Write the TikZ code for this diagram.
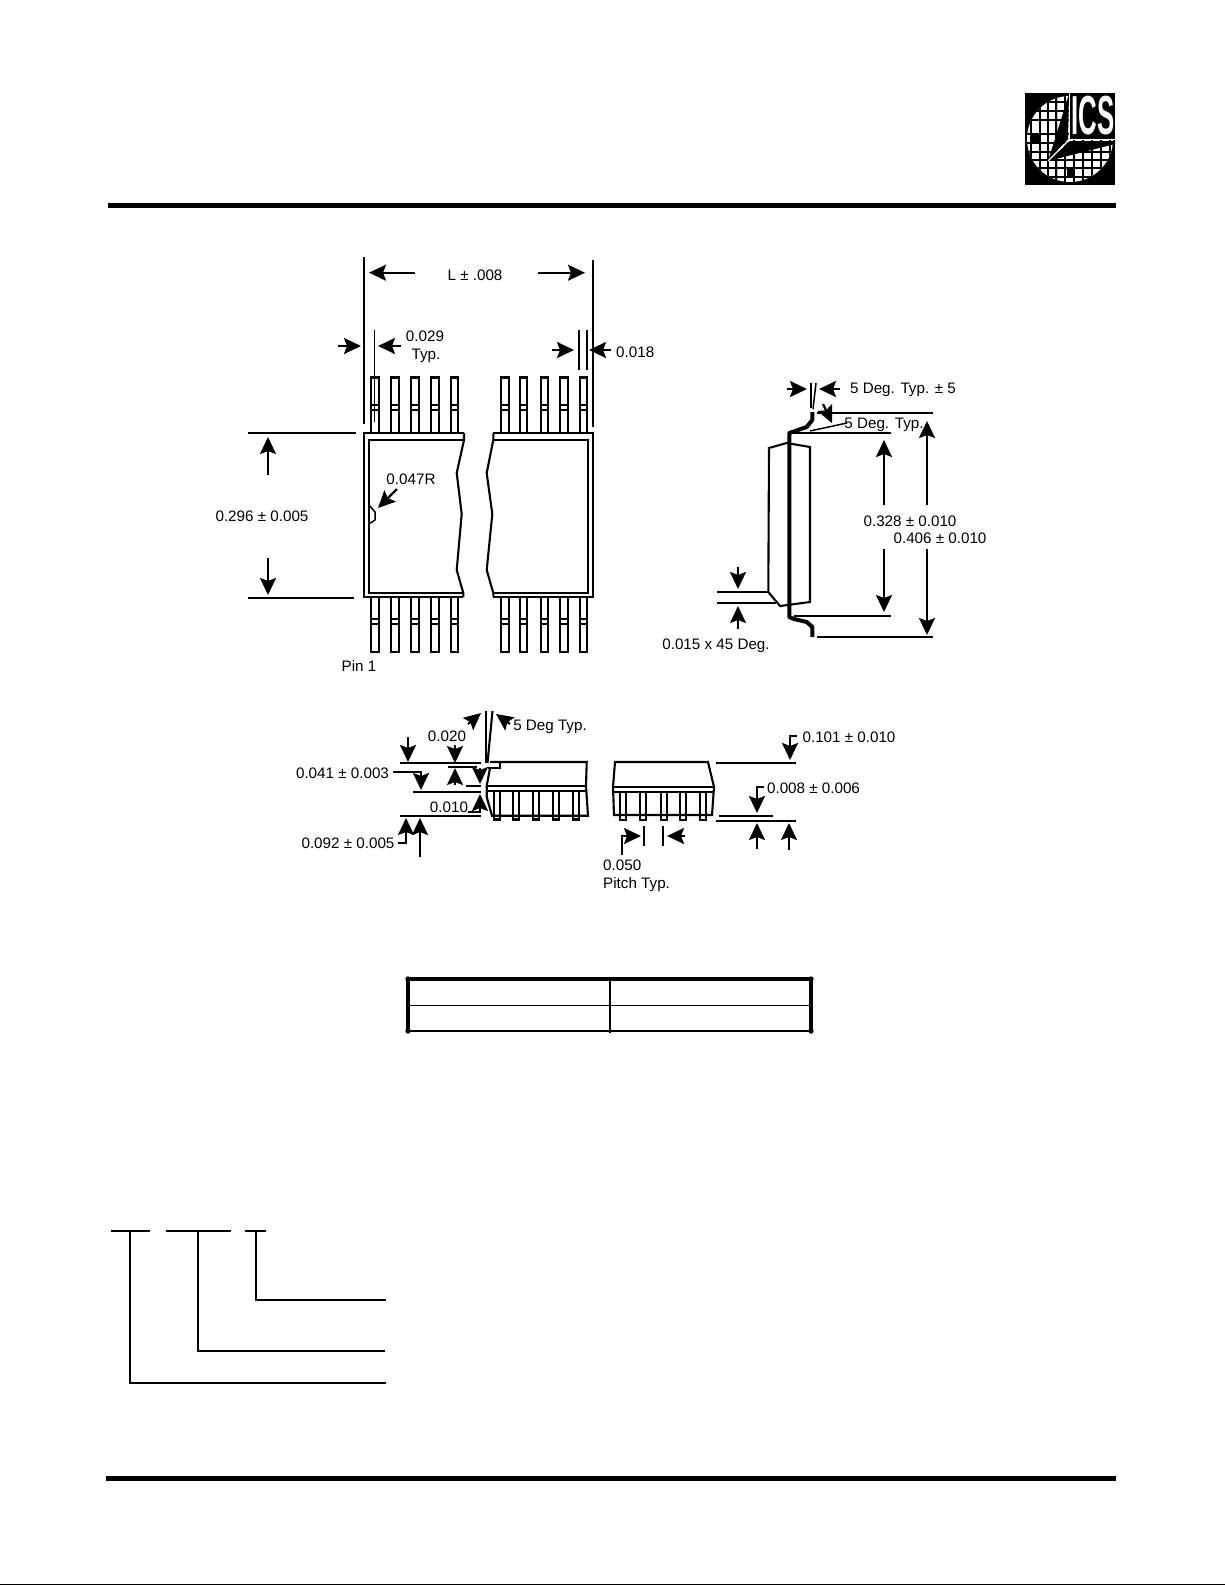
\documentclass[tikz,border=0pt]{standalone}
\usepackage{fontspec}
\setmainfont{Liberation Sans}
\usetikzlibrary{arrows.meta}
\tikzset{
  dimtext/.style={inner sep=0pt, font=\fontsize{15.2}{18}\selectfont},
  dimline/.style={line width=2.1pt},
  thinline/.style={line width=1.5pt},
  dimarrow/.style={line width=2.2pt, -{Stealth[length=17pt, width=16pt, inset=3pt]}},
  leadline/.style={line width=4pt},
  rule/.style={line width=5pt},
}
\begin{document}
\begin{tikzpicture}[x=1pt, y=-1pt]
  \useasboundingbox (0, 0) rectangle (1225, 1585);

  % logo
  \fill (1025, 93) rectangle (1115, 185);
  \begin{scope}
    \clip (1070, 139) circle (43);
    \fill[white] (1025, 93) rectangle (1115, 185);
    \fill[gray!45] (1056, 93) rectangle (1058, 185);
    \fill (1032, 135) rectangle (1040, 143);
    \fill (1067, 168) rectangle (1075, 177);
    \foreach \gx in {1031, 1040, 1048, 1056, 1065, 1074, 1083, 1092, 1101, 1110}
      \draw[line width=1.3pt] (\gx, 93) -- (\gx, 185);
    \foreach \gy in {102, 111, 120, 134, 143, 152, 160, 168, 177}
      \draw[line width=1.3pt] (1025, \gy) -- (1115, \gy);
  \end{scope}
  \fill (1069, 94) -- (1048, 161) -- (1068, 139) -- cycle;
  \fill (1048, 161) -- (1070, 141) -- (1115, 141) -- (1115, 144) -- cycle;
  \fill (1070, 93) rectangle (1115, 139);
  \draw[white, line width=1.2pt] (1069.5, 93) -- (1069.5, 139.5) -- (1115, 139.5);
  \draw[white, line width=1.2pt] (1069.5, 139.5) -- (1048, 161);
  \node[text=white, inner sep=0pt, xscale=.47, transform shape, font=\fontsize{55}{55}\bfseries\selectfont] (logotext) at (1093, 115.5){ICS};

  % rules
  \draw[rule] (108, 205.5) -- (1116, 205.5);
  \draw[rule] (106, 1478.5) -- (1116, 1478.5);
  \draw[line width=1.5pt] (0, 1584.3) -- (1225, 1584.3);

  % top view, pins
  \foreach \px in {375, 395, 415, 435, 454.7, 505, 523.7, 544.3, 564, 583.3}{
    \draw[dimline] (\px-3.7, 433) -- (\px-3.7, 377.5) -- (\px+3.7, 377.5) -- (\px+3.7, 433);
    \draw[thinline] (\px-3.7, 405) -- (\px+3.7, 405);
    \draw[thinline] (\px-3.7, 410) -- (\px+3.7, 410);
    \draw[dimline] (\px-3.7, 597) -- (\px-3.7, 652) -- (\px+3.7, 652) -- (\px+3.7, 597);
    \draw[thinline] (\px-3.7, 619) -- (\px+3.7, 619);
    \draw[thinline] (\px-3.7, 624) -- (\px+3.7, 624);
  }
  % top view, body
  \draw[dimline] (464, 433) -- (364, 433) -- (364, 597) -- (463, 597);
  \draw[dimline] (464, 440) -- (369, 440) -- (369, 593) -- (463, 593);
  \draw[dimline] (464, 433) -- (464, 440) -- (456.7, 473) -- (461.7, 514) -- (456.7, 570) -- (463.3, 593) -- (463.3, 597);
  \draw[dimline] (493, 433) -- (593, 433) -- (593, 597) -- (493, 597);
  \draw[dimline] (493, 440) -- (588, 440) -- (588, 593) -- (493, 593);
  \draw[dimline] (493.3, 433) -- (493.3, 440) -- (486.7, 473) -- (492.3, 514) -- (486.7, 570) -- (493.3, 593) -- (493.3, 597);
  \draw[thinline] (369, 505) -- (375, 512) -- (375, 520) -- (369, 524);

  % L
  \draw[dimline] (364, 257) -- (364, 424);
  \draw[dimline] (592.7, 260) -- (592.7, 427);
  \draw[dimarrow] (415, 272.7) -- (369, 272.7);
  \draw[dimarrow] (538, 272.7) -- (585, 272.7);
  \node[dimtext] (lentext) at(475, 275){L ± .008};
  % 0.029
  \draw[thinline] (374.7, 330) -- (374.7, 422);
  \draw[dimarrow] (338, 346) -- (361, 346);
  \draw[dimarrow] (401, 346) -- (378, 346);
  \node[dimtext] (widthtext) at(425, 336){0.029};
  \node[dimtext] (widthtyp) at(426, 356){Typ.};
  % 0.018
  \draw[dimline] (579, 330) -- (579, 370);
  \draw[thinline] (587, 330) -- (587, 370);
  \draw[dimarrow] (552, 350) -- (574, 350);
  \draw[dimarrow] (611, 350) -- (589, 350);
  \node[dimtext, anchor=west] (leadtext) at(616, 352){0.018};
  % 0.296
  \draw[dimline] (248, 433) -- (356, 433);
  \draw[dimline] (248, 598) -- (354, 598);
  \draw[dimarrow] (268, 475) -- (268, 437);
  \draw[dimarrow] (268, 558) -- (268, 595);
  \node[dimtext] (bodytext) at(262, 516){0.296 ± 0.005};
  % 0.047R
  \draw[dimarrow] (397, 489) -- (378, 508);
  \node[dimtext] (radiustext) at(411, 479){0.047R};
  \node[dimtext] (pintext) at(359, 666){Pin 1};

  % side view
  \draw[dimline] (769, 448) -- (786.7, 443) -- (810, 447) -- (810, 602) -- (780, 606) -- (768.3, 592) -- cycle;
  \draw[leadline, line join=round] (812.3, 412) -- (812.3, 420) -- (806.7, 427) -- (789.3, 433) -- (789.3, 617) -- (794, 619) -- (806.7, 622) -- (812.3, 627) -- (812.3, 637);
  \draw[dimline] (817, 413) -- (933, 413);
  \draw[dimline] (817, 637) -- (933, 637);
  \draw[dimline] (793, 433) -- (891, 433);
  \draw[dimline] (794, 616) -- (891, 616);
  \draw[dimarrow] (884, 505) -- (884, 440);
  \draw[dimarrow] (884, 549) -- (884, 612);
  \draw[dimarrow] (927, 505) -- (927, 421);
  \draw[dimarrow] (927, 549) -- (927, 635);
  \node[dimtext] (innertext) at(910, 521){0.328 ± 0.010};
  \node[dimtext] (outertext) at(940, 538){0.406 ± 0.010};
  % angles
  \draw[thinline] (811, 383) -- (811, 408);
  \draw[thinline] (816, 383) -- (813, 409);
  \draw[dimarrow] (787, 389) -- (807, 389);
  \draw[dimarrow] (840, 389) -- (819, 389);
  \node[dimtext] (anglea) at(903, 390){5 Deg. Typ. ± 5};
  \draw[thinline] (810, 431) -- (847, 423);
  \draw[dimarrow] (823, 404) -- (832, 423);
  \node[dimtext] (angleb) at(884, 425){5 Deg. Typ.};
  % chamfer
  \draw[dimline] (717, 592) -- (768, 592);
  \draw[dimline] (717, 603) -- (776, 603);
  \draw[dimarrow] (738, 567) -- (738, 589);
  \draw[dimarrow] (738, 629) -- (738, 606);
  \node[dimtext] (chamfertext) at(716, 646){0.015 x 45 Deg.};

  % end view, left
  \draw[dimline] (491.7, 762) -- (586.7, 762) -- (586, 786) -- (588, 815.7) -- (492, 815.7) -- (486.7, 797) -- (486.7, 786) -- (490, 768);
  \draw[dimline] (486.7, 786) -- (586, 786);
  \draw[dimline] (486.7, 791) -- (587, 791);
  \draw[dimline] (490, 762) -- (500, 762) -- (500, 768) -- (488, 768);
  \foreach \px in {496.7, 516, 535.7, 555.7, 575.7}{
    \draw[dimline] (\px-3, 791) -- (\px-3, 819.5) -- (\px+3, 819.5) -- (\px+3, 791);
  }
  \draw[dimline] (486, 711) -- (486, 763);
  \draw[dimline] (492.5, 711) -- (487.5, 763);
  \draw[dimarrow] (468, 724) -- (481, 713);
  \draw[dimarrow] (510, 724) -- (496, 714);
  \node[dimtext] (anglec) at(550, 727){5 Deg Typ.};
  % left dimensions
  \draw[dimline] (400, 763) -- (481, 763);
  \draw[dimline] (413, 792) -- (481, 792);
  \draw[dimline] (400, 816) -- (481, 816);
  \draw[dimline] (448, 767) -- (477, 767);
  \draw[thinline] (466, 786) -- (481, 786);
  \draw[dimarrow] (408, 737) -- (408, 762);
  \draw[dimarrow] (393, 772) -- (421, 772) -- (421, 790);
  \draw[dimarrow] (455, 745) -- (455, 763);
  \draw[dimarrow] (455, 785) -- (455, 768);
  \draw[dimarrow] (480, 768) -- (480, 784);
  \draw[dimarrow] (468, 812) -- (480, 812) -- (480, 794);
  \draw[dimarrow] (398, 843) -- (406, 843) -- (406, 818);
  \draw[dimarrow] (420, 857) -- (420, 818);
  \node[dimtext] (stand) at(447, 736){0.020};
  \node[dimtext] (thick) at(342.5, 773){0.041 ± 0.003};
  \node[dimtext] (clear) at(449, 807){0.010};
  \node[dimtext] (total) at(348, 843){0.092 ± 0.005};

  % end view, right
  \draw[dimline] (615, 762) -- (708, 762) -- (714, 787) -- (712, 815) -- (614, 815) -- (613, 787) -- cycle;
  \draw[dimline] (613, 787) -- (714, 787);
  \draw[dimline] (613, 792) -- (714, 792);
  \foreach \px in {623, 643, 664, 683, 703}{
    \draw[dimline] (\px-3, 792) -- (\px-3, 820) -- (\px+3, 820) -- (\px+3, 792);
  }
  \draw[dimline] (716, 763) -- (796, 763);
  \draw[dimline] (716, 821) -- (796, 821);
  \draw[dimline] (719, 816) -- (773, 816);
  \draw[dimarrow] (797, 736) -- (790, 736) -- (790, 760);
  \draw[dimarrow] (764, 787) -- (757, 787) -- (757, 813);
  \draw[dimarrow] (757, 849) -- (757, 823);
  \draw[dimarrow] (789, 850) -- (789, 823);
  \node[dimtext] (hightext) at(849, 737){0.101 ± 0.010};
  \node[dimtext] (lowtext) at(813.5, 788){0.008 ± 0.006};
  % pitch
  \draw[dimline] (644, 826) -- (644, 846);
  \draw[dimline] (663, 826) -- (663, 846);
  \draw[dimarrow] (622, 855) -- (622, 836) -- (641, 836);
  \draw[dimarrow] (685, 836) -- (667, 836);
  \node[dimtext, anchor=west] (pitchtext) at(603, 865){0.050};
  \node[dimtext, anchor=west] (pitchtyp) at(603, 885){Pitch Typ.};

  % table
  \draw[line width=3.4pt] (408, 979) -- (811, 979);
  \draw[line width=2.6pt] (408, 1031) -- (811, 1031);
  \draw[line width=3.4pt] (408, 979) -- (408, 1031);
  \draw[line width=3.4pt] (811, 979) -- (811, 1031);
  \draw[line width=2pt] (610, 977) -- (610, 1033);
  \draw[line width=1pt] (406, 1005) -- (813, 1005);
  \foreach \cx in {408, 811}
    \foreach \cy in {979, 1031}
      \fill (\cx, \cy) circle (2.7);

  % ordering code
  \draw[dimline] (111, 1231) -- (150, 1231);
  \draw[dimline] (166, 1231) -- (231, 1231);
  \draw[dimline] (245, 1231) -- (266, 1231);
  \draw[dimline] (130, 1231) -- (130, 1383) -- (386, 1383);
  \draw[dimline] (198, 1231) -- (198, 1351) -- (385, 1351);
  \draw[dimline] (256, 1231) -- (256, 1300) -- (386, 1300);
\end{tikzpicture}
\end{document}
